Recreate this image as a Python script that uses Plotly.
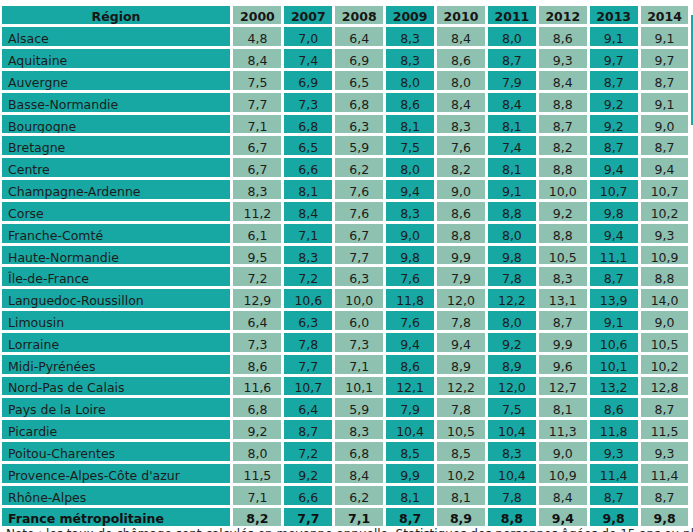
import plotly.graph_objects as go

regions = ["Alsace", "Aquitaine", "Auvergne", "Basse-Normandie", "Bourgogne", "Bretagne",
           "Centre", "Champagne-Ardenne", "Corse", "Franche-Comté", "Haute-Normandie",
           "Île-de-France", "Languedoc-Roussillon", "Limousin", "Lorraine", "Midi-Pyrénées",
           "Nord-Pas de Calais", "Pays de la Loire", "Picardie", "Poitou-Charentes",
           "Provence-Alpes-Côte d'azur", "Rhône-Alpes", "France métropolitaine"]

years = ["2000", "2007", "2008", "2009", "2010", "2011", "2012", "2013", "2014"]

v2000 = [4.8, 8.4, 7.5, 7.7, 7.1, 6.7, 6.7, 8.3, 11.2, 6.1, 9.5, 7.2, 12.9, 6.4, 7.3, 8.6, 11.6, 6.8, 9.2, 8.0, 11.5, 7.1, 8.2]
v2007 = [7.0, 7.4, 6.9, 7.3, 6.8, 6.5, 6.6, 8.1, 8.4, 7.1, 8.3, 7.2, 10.6, 6.3, 7.8, 7.7, 10.7, 6.4, 8.7, 7.2, 9.2, 6.6, 7.7]
v2008 = [6.4, 6.9, 6.5, 6.8, 6.3, 5.9, 6.2, 7.6, 7.6, 6.7, 7.7, 6.3, 10.0, 6.0, 7.3, 7.1, 10.1, 5.9, 8.3, 6.8, 8.4, 6.2, 7.1]
v2009 = [8.3, 8.3, 8.0, 8.6, 8.1, 7.5, 8.0, 9.4, 8.3, 9.0, 9.8, 7.6, 11.8, 7.6, 9.4, 8.6, 12.1, 7.9, 10.4, 8.5, 9.9, 8.1, 8.7]
v2010 = [8.4, 8.6, 8.0, 8.4, 8.3, 7.6, 8.2, 9.0, 8.6, 8.8, 9.9, 7.9, 12.0, 7.8, 9.4, 8.9, 12.2, 7.8, 10.5, 8.5, 10.2, 8.1, 8.9]
v2011 = [8.0, 8.7, 7.9, 8.4, 8.1, 7.4, 8.1, 9.1, 8.8, 8.0, 9.8, 7.8, 12.2, 8.0, 9.2, 8.9, 12.0, 7.5, 10.4, 8.3, 10.4, 7.8, 8.8]
v2012 = [8.6, 9.3, 8.4, 8.8, 8.7, 8.2, 8.8, 10.0, 9.2, 8.8, 10.5, 8.3, 13.1, 8.7, 9.9, 9.6, 12.7, 8.1, 11.3, 9.0, 10.9, 8.4, 9.4]
v2013 = [9.1, 9.7, 8.7, 9.2, 9.2, 8.7, 9.4, 10.7, 9.8, 9.4, 11.1, 8.7, 13.9, 9.1, 10.6, 10.1, 13.2, 8.6, 11.8, 9.3, 11.4, 8.7, 9.8]
v2014 = [9.1, 9.7, 8.7, 9.1, 9.0, 8.7, 9.4, 10.7, 10.2, 9.3, 10.9, 8.8, 14.0, 9.0, 10.5, 10.2, 12.8, 8.7, 11.5, 9.3, 11.4, 8.7, 9.8]

series = [v2000, v2007, v2008, v2009, v2010, v2011, v2012, v2013, v2014]

TEAL = "#17a8a4"
GREY = "#8fc1b0"
ROW_H = 21.83
TOP = 4.0
W, H = 693, 532

def fmt(v):
    return f"{v:.1f}".replace(".", ",")

n = len(regions)
body_regions = regions[:-1]
body_values = [[fmt(v) for v in col[:-1]] for col in series]
total_row = [regions[-1]] + [fmt(col[-1]) for col in series]

col_colors = [TEAL] + [GREY if k % 2 == 0 else TEAL for k in range(len(years))]
col_widths = [232] + [50.9] * len(years)
aligns = ["left"] + ["center"] * len(years)

main_bottom = TOP + ROW_H * n  # header + body rows

fig = go.Figure()
fig.add_trace(go.Table(
    domain=dict(x=[0, 690 / W], y=[1 - main_bottom / H, 1 - TOP / H]),
    columnwidth=col_widths,
    header=dict(
        values=["Région"] + years,
        fill_color=col_colors,
        line=dict(color="white", width=3),
        align="center",
        height=ROW_H,
        font=dict(family="DejaVu Sans", size=12.5, color="#161616", weight="bold"),
    ),
    cells=dict(
        values=[body_regions] + body_values,
        fill_color=col_colors,
        line=dict(color="white", width=3),
        align=aligns,
        height=ROW_H,
        font=dict(family="DejaVu Sans", size=12.5, color="#1c1c1c"),
    ),
))
# total row (France métropolitaine), bold
fig.add_trace(go.Table(
    domain=dict(x=[0, 690 / W], y=[0, 1 - main_bottom / H]),
    columnwidth=col_widths,
    header=dict(
        values=total_row,
        fill_color=col_colors,
        line=dict(color="white", width=3),
        align=aligns,
        height=ROW_H,
        font=dict(family="DejaVu Sans", size=12.5, color="#111111", weight="bold"),
    ),
    cells=dict(values=[]),
))

fig.update_layout(
    width=W, height=H,
    margin=dict(l=0, r=0, t=0, b=0),
    paper_bgcolor="white",
    annotations=[
        dict(text="En %", x=593 / W, y=1 + 4 / H, xref="paper", yref="paper",
             xanchor="center", yanchor="middle", showarrow=False,
             font=dict(family="DejaVu Sans", size=12, color="#222")),
        dict(text="Note : les taux de chômage sont calculés en moyenne annuelle. Statistiques des personnes âgées de 15 ans ou plus.",
             x=4 / W, y=-2 / H, xref="paper", yref="paper",
             xanchor="left", yanchor="middle", showarrow=False,
             font=dict(family="DejaVu Sans", size=12, color="#222")),
    ],
    shapes=[dict(type="rect", xref="paper", yref="paper",
                 x0=690 / W, x1=1, y0=1 - 125 / H, y1=1 - 15 / H,
                 fillcolor=TEAL, line=dict(width=0), layer="below")],
)

fig.write_html("out.html", config={"displayModeBar": False},
               post_script="document.body.style.margin='0';")
